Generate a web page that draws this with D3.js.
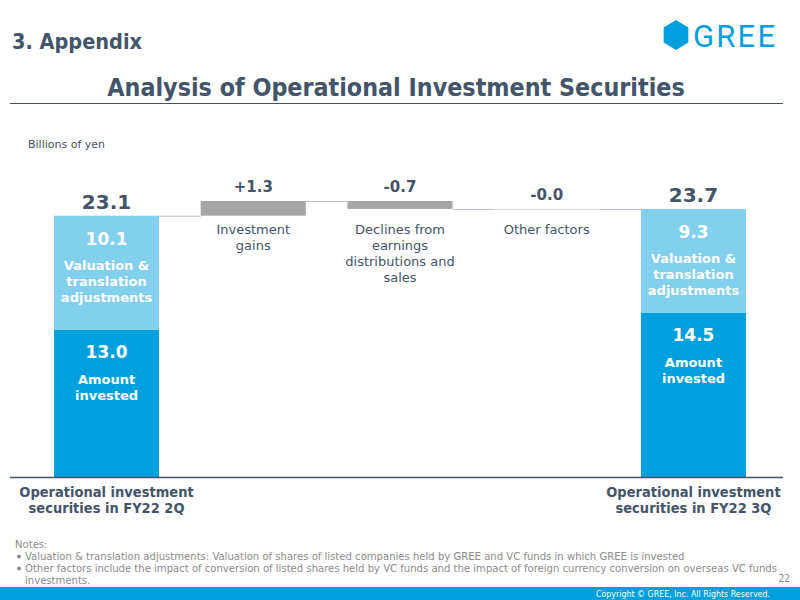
<!DOCTYPE html>
<html>
<head>
<meta charset="utf-8">
<script src="https://cdn.jsdelivr.net/npm/d3@7"></script>
<style>
  body { margin: 0; background: #fff; }
  svg { display: block; }
</style>
</head>
<body>
<svg id="chart" width="800" height="600"></svg>
<script>
// data
const steps = ["start", "gains", "declines", "other", "end"];
const stepLabels = [
  ["Operational investment", "securities in FY22 2Q"],
  ["Investment", "gains"],
  ["Declines from", "earnings", "distributions and", "sales"],
  ["Other factors"],
  ["Operational investment", "securities in FY22 3Q"]
];
const amountInvested = [13.0, 14.5];   // FY22 2Q, FY22 3Q
const valuationAdj = [10.1, 9.3];
const totals = [23.1, 23.7];
const changes = [1.3, -0.7, -0.0];
const changeLabels = ["+1.3", "-0.7", "-0.0"];
const notes = [
  "Notes:",
  "Valuation & translation adjustments: Valuation of shares of listed companies held by GREE and VC funds in which GREE is invested",
  "Other factors include the impact of conversion of listed shares held by VC funds and the impact of foreign currency conversion on overseas VC funds",
  "investments."
];

const slate = "#44546a";
const lightBlue = "#82d0ee";
const darkBlue = "#00a0dc";
const gray = "#a6a6a6";
const condensed = "'DejaVu Sans Condensed', 'DejaVu Sans', sans-serif";
const plain = "'DejaVu Sans', Verdana, sans-serif";

const svg = d3.select("#chart");

// header
svg.append("text").attr("x", 12).attr("y", 49)
  .style("font-family", condensed).style("font-weight", "bold").style("font-size", "21.5px")
  .attr("fill", slate).text("3. Appendix");

svg.append("text").attr("x", 396).attr("y", 96).attr("text-anchor", "middle")
  .style("font-family", condensed).style("font-weight", "bold").style("font-size", "24.8px")
  .attr("fill", slate).text("Analysis of Operational Investment Securities");

svg.append("line").attr("x1", 10).attr("x2", 783).attr("y1", 103.5).attr("y2", 103.5)
  .attr("stroke", slate).attr("stroke-width", 1.2);

// logo
const hx = 676, hy = 35, hr = 15;
const hex = d3.range(6).map(i => {
  const a = Math.PI / 3 * i - Math.PI / 2;
  return [hx + hr * 0.95 * Math.cos(a), hy + hr * Math.sin(a)];
});
svg.append("path").attr("d", d3.line()(hex) + "Z").attr("fill", darkBlue);
svg.append("text").attr("x", 693).attr("y", 47).attr("textLength", 82)
  .style("font-family", "Roboto, sans-serif").style("font-size", "31px")
  .attr("fill", darkBlue).text("GREE");

svg.append("text").attr("x", 28).attr("y", 148)
  .style("font-family", plain).style("font-size", "11px")
  .attr("fill", slate).text("Billions of yen");

// scales
const x = d3.scaleBand().domain(steps).range([54, 746]).paddingInner(0.284).paddingOuter(0);
const y = d3.scaleLinear().domain([0, 24.4]).range([477, 201]);
const bw = x.bandwidth();

// waterfall levels
const levels = [totals[0]];
changes.forEach(c => levels.push(levels[levels.length - 1] + c));
levels.push(totals[1]);

// totals (stacked)
const totalSteps = [steps[0], steps[4]];
totalSteps.forEach((s, i) => {
  svg.append("rect").attr("x", x(s)).attr("width", bw)
    .attr("y", y(amountInvested[i])).attr("height", y(0) - y(amountInvested[i]))
    .attr("fill", darkBlue);
  svg.append("rect").attr("x", x(s)).attr("width", bw)
    .attr("y", y(totals[i])).attr("height", y(amountInvested[i]) - y(totals[i]))
    .attr("fill", lightBlue);
});

// change bars
changes.forEach((c, i) => {
  const s = steps[i + 1];
  const a = levels[i], b = levels[i + 1];
  svg.append("rect").attr("x", x(s)).attr("width", bw)
    .attr("y", y(Math.max(a, b))).attr("height", Math.max(0.5, Math.abs(y(a) - y(b))))
    .attr("fill", gray);
});

// connectors
for (let i = 0; i < steps.length - 1; i++) {
  svg.append("line")
    .attr("x1", x(steps[i]) + bw).attr("x2", x(steps[i + 1]))
    .attr("y1", y(levels[i]) + 0.5).attr("y2", y(levels[i]) + 0.5)
    .attr("stroke", "#b8c2cc").attr("stroke-width", 1);
}

// baseline
svg.append("line").attr("x1", 10).attr("x2", 783).attr("y1", y(0) + 0.5).attr("y2", y(0) + 0.5)
  .attr("stroke", slate).attr("stroke-width", 1.3);

// total labels
totalSteps.forEach((s, i) => {
  const cx = x(s) + bw / 2;
  svg.append("text").attr("x", cx).attr("y", y(totals[i]) - 7).attr("text-anchor", "middle")
    .style("font-family", plain).style("font-weight", "bold").style("font-size", "20px")
    .attr("fill", slate).text(totals[i].toFixed(1));
  svg.append("text").attr("x", cx).attr("y", y(totals[i]) + 29).attr("text-anchor", "middle")
    .style("font-family", plain).style("font-weight", "bold").style("font-size", "17px")
    .attr("fill", "#fff").text(valuationAdj[i].toFixed(1));
  ["Valuation &", "translation", "adjustments"].forEach((t, j) => {
    svg.append("text").attr("x", cx).attr("y", y(totals[i]) + 54 + j * 16).attr("text-anchor", "middle")
      .style("font-family", plain).style("font-weight", "bold").style("font-size", "13px")
      .attr("fill", "#fff").text(t);
  });
  svg.append("text").attr("x", cx).attr("y", y(amountInvested[i]) + 28).attr("text-anchor", "middle")
    .style("font-family", plain).style("font-weight", "bold").style("font-size", "17px")
    .attr("fill", "#fff").text(amountInvested[i].toFixed(1));
  ["Amount", "invested"].forEach((t, j) => {
    svg.append("text").attr("x", cx).attr("y", y(amountInvested[i]) + 54 + j * 16).attr("text-anchor", "middle")
      .style("font-family", plain).style("font-weight", "bold").style("font-size", "13px")
      .attr("fill", "#fff").text(t);
  });
  stepLabels[i === 0 ? 0 : 4].forEach((t, j) => {
    svg.append("text").attr("x", cx).attr("y", y(0) + 20 + j * 16).attr("text-anchor", "middle")
      .style("font-family", condensed).style("font-weight", "bold").style("font-size", "14.5px")
      .attr("fill", slate).text(t);
  });
});

// change labels
changes.forEach((c, i) => {
  const s = steps[i + 1];
  const cx = x(s) + bw / 2;
  const top = y(Math.max(levels[i], levels[i + 1]));
  svg.append("text").attr("x", cx).attr("y", top - 9).attr("text-anchor", "middle")
    .style("font-family", plain).style("font-weight", "bold").style("font-size", "15px")
    .attr("fill", slate).text(changeLabels[i]);
  stepLabels[i + 1].forEach((t, j) => {
    svg.append("text").attr("x", cx).attr("y", y(totals[0]) + 18 + j * 16).attr("text-anchor", "middle")
      .style("font-family", plain).style("font-size", "13px")
      .attr("fill", slate).text(t);
  });
});

// notes
notes.forEach((t, i) => {
  svg.append("text").attr("x", i === 0 ? 15 : 25).attr("y", 548 + i * 12)
    .style("font-family", condensed).style("font-size", "11.2px")
    .attr("fill", "#8c8c8c").text(t);
});
[1, 2].forEach(i => {
  svg.append("circle").attr("cx", 19).attr("cy", 548 + i * 12 - 3.5).attr("r", 2)
    .attr("fill", "#8c8c8c");
});
svg.append("text").attr("x", 790).attr("y", 582).attr("text-anchor", "end")
  .style("font-family", condensed).style("font-size", "10px")
  .attr("fill", "#8c8c8c").text("22");

// footer
svg.append("rect").attr("x", 0).attr("y", 587).attr("width", 800).attr("height", 13).attr("fill", darkBlue);
svg.append("text").attr("x", 770).attr("y", 597).attr("text-anchor", "end")
  .style("font-family", condensed).style("font-size", "8.8px")
  .attr("fill", "#fff").text("Copyright \u00A9 GREE, Inc. All Rights Reserved.");
</script>
</body>
</html>
